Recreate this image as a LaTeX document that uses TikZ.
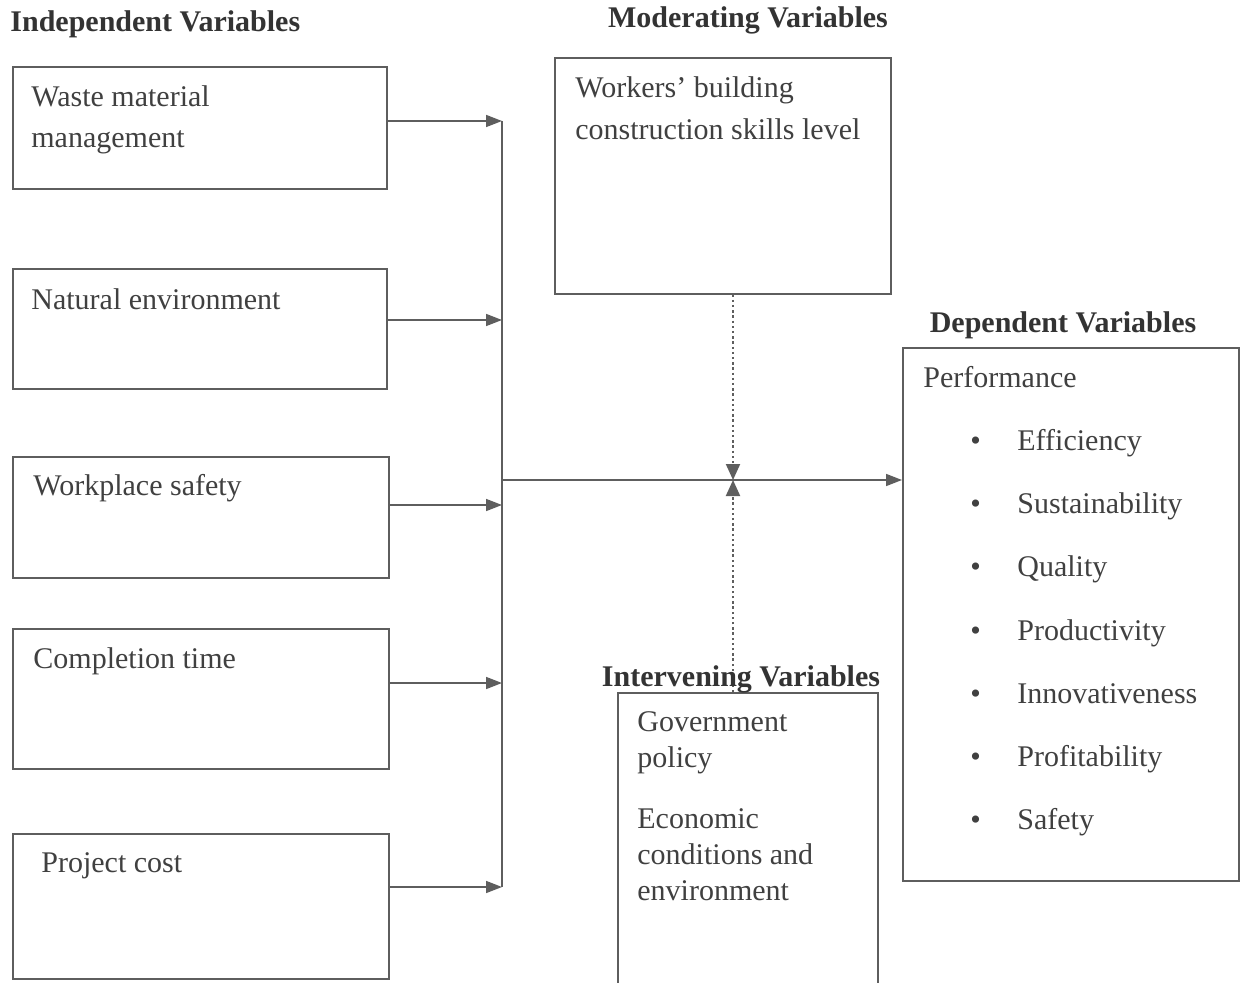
\documentclass[tikz,border=0pt]{standalone}
\usepackage{fontspec}
\setmainfont{Liberation Serif}
\usetikzlibrary{arrows.meta,positioning}
\definecolor{linegray}{HTML}{5E5E5E}
\definecolor{txtgray}{HTML}{404040}
\newcommand{\bul}{\makebox[23.5pt][l]{\textbullet}}

\begin{document}
\begin{tikzpicture}[x=0.5pt,y=-0.5pt]
\tikzset{box/.style={draw=linegray,line width=0.8pt,rectangle,anchor=north west,inner sep=0pt},
  txt/.style={anchor=north west,inner sep=0pt,align=left,text=txtgray,font=\fontsize{15}{20.5}\selectfont},
  head/.style={anchor=base,inner sep=0pt,text=black!80,font=\fontsize{15}{18}\selectfont\bfseries},
  arr/.style={draw=linegray,line width=0.8pt,-{Triangle[length=8pt,width=6pt]}},
  dots/.style={draw=linegray,-{Triangle[length=8pt,width=7pt]},dash pattern=on 1.2pt off 1.4pt,line width=1pt}}
\useasboundingbox (0,0) rectangle (1240,983);
% independent variables
\node (indep) at (10,32) [head,anchor=base west] {Independent Variables};
\node (waste) at (12,66) [box,minimum width=187pt,minimum height=61pt] {};
\node (wastet) at (31,85) [txt] {Waste material\\management};
\node (nat) at (12,268) [box,minimum width=187pt,minimum height=60pt] {};
\node (natt) at (31,288) [txt] {Natural environment};
\node (work) at (12,456) [box,minimum width=188pt,minimum height=60.5pt] {};
\node (workt) at (33,474) [txt] {Workplace safety};
\node (compl) at (12,628) [box,minimum width=188pt,minimum height=70pt] {};
\node (complt) at (33,647) [txt] {Completion time};
\node (cost) at (12,833) [box,minimum width=188pt,minimum height=72.5pt] {};
\node (costt) at (41,852) [txt] {Project cost};
% moderating variables
\node (modh) at (748,28) [head] {Moderating Variables};
\node (mod) at (554,57) [box,minimum width=168pt,minimum height=118pt] {};
\node (modt) at (575,76) [txt,font=\fontsize{15}{21}\selectfont] {Workers’ building\\construction skills level};
% dependent variables
\node (deph) at (1063,333) [head] {Dependent Variables};
\node (dep) at (902,347) [box,minimum width=168pt,minimum height=266.5pt] {};
\node (perf) at (923,366) [txt] {Performance};
\node (items) at (970,429) [txt,font=\fontsize{15}{31.6}\selectfont]
  {\bul Efficiency\\\bul Sustainability\\\bul Quality\\\bul Productivity\\\bul Innovativeness\\\bul Profitability\\\bul Safety};
% intervening variables
\node (inter) at (617,692) [box,minimum width=130pt,minimum height=152pt] {};
\node (intert) at (637,711) [txt,font=\fontsize{15}{18}\selectfont]
  {Government\\policy\\[12.5pt]Economic\\conditions and\\environment};
% connectors
\coordinate (b1) at (502,121);
\coordinate (b2) at (502,320);
\coordinate (b3) at (502,505);
\coordinate (b4) at (502,683);
\coordinate (b5) at (502,887);
\coordinate (bmid) at (502,480);
\coordinate (mid) at (733,480);
\draw[arr] (waste.east |- b1) -- (b1);
\draw[arr] (nat.east |- b2) -- (b2);
\draw[arr] (work.east |- b3) -- (b3);
\draw[arr] (compl.east |- b4) -- (b4);
\draw[arr] (cost.east |- b5) -- (b5);
\draw[linegray,line width=0.8pt] (b1) -- (b5);
\draw[arr] (bmid) -- (dep.west |- bmid);
\draw[dots] (mod.south -| mid) -- (mid);
\draw[dots] (inter.north -| mid) -- (mid);
\node (interh) at (741,686) [head] {Intervening Variables};
\end{tikzpicture}
\end{document}
